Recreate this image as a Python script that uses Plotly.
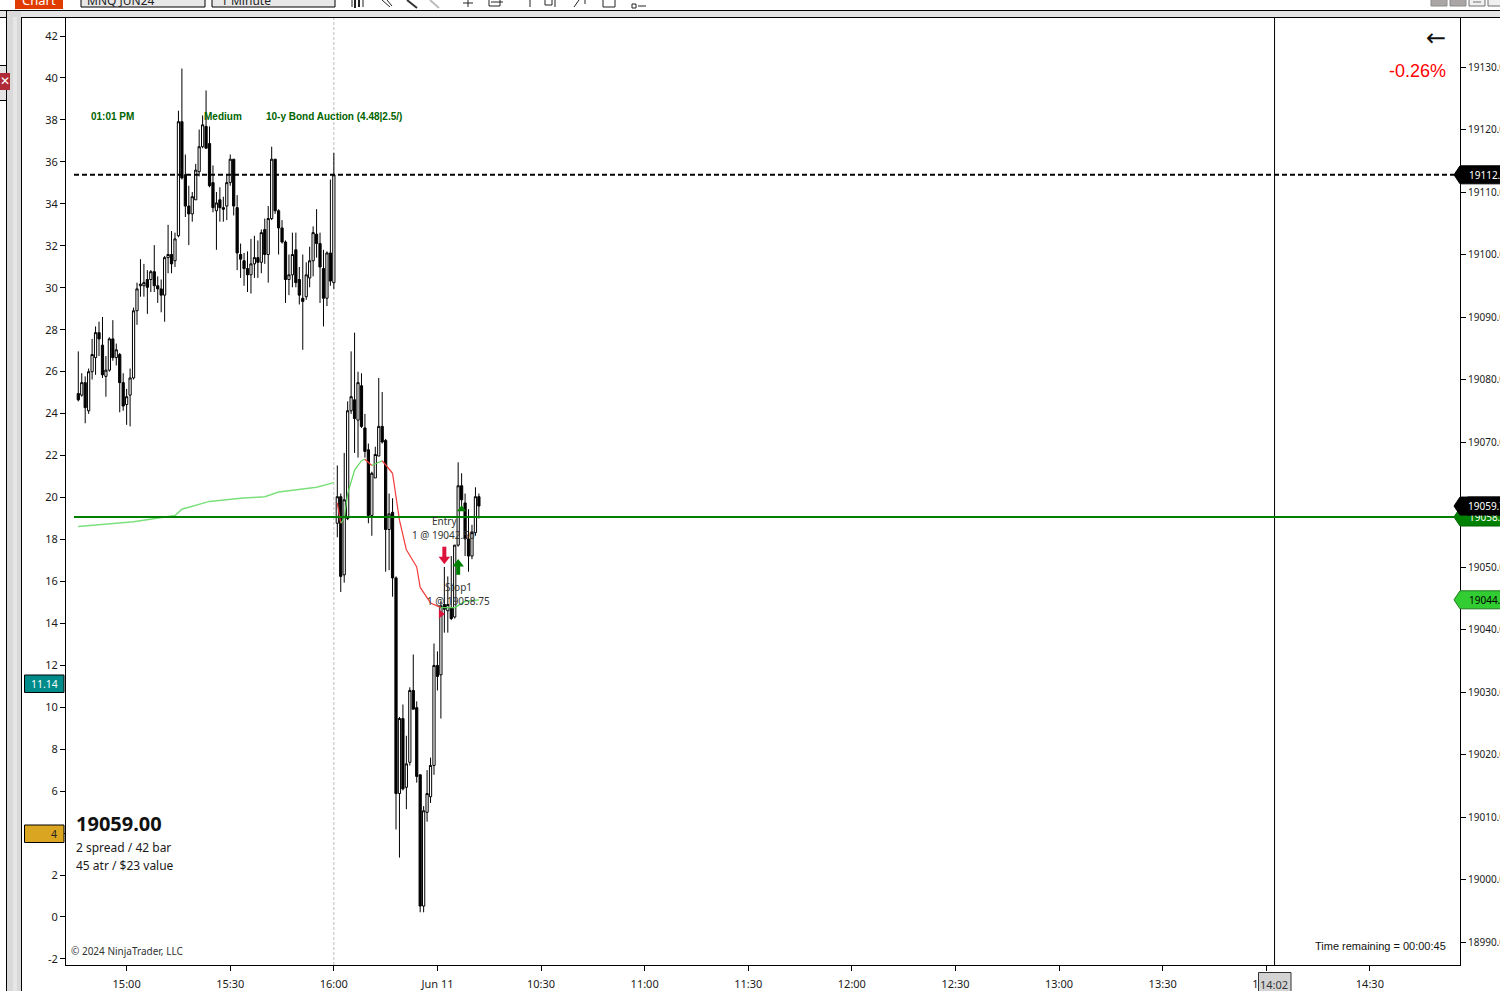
import plotly.graph_objects as go

# bars are numbered from 14:46, one per minute (session break after 16:00)
bar_idx = list(range(117))
opens = [19077.75, 19077.5, 19079.5, 19075, 19081.25, 19083.5, 19087.5, 19085.5, 19080.5, 19081.5,
         19086.5, 19083.5, 19084, 19079.5, 19076, 19077.5, 19080.25, 19091, 19095, 19095,
         19096, 19096, 19097.25, 19095, 19094.5, 19093.5, 19099.5, 19100, 19099, 19103,
         19121.25, 19112.75, 19107.75, 19106.5, 19108.75, 19113.25, 19117.25, 19120.5, 19117.75, 19111.5,
         19107, 19108.75, 19107.5, 19107.75, 19111.5, 19115.25, 19107.5, 19100, 19099, 19097.75,
         19096.75, 19098.5, 19099.5, 19098.75, 19104, 19100, 19105.75, 19115.25, 19107, 19104.25,
         19102, 19096, 19096.75, 19100.75, 19096, 19093, 19093.25, 19096.25, 19099, 19103.25,
         19101.75, 19097.75, 19093, 19100.25, 19095.5, 19057, 19061.25, 19048.75, 19057.75, 19075,
         19076.75, 19073.5, 19079, 19072.25, 19068.75, 19058.25, 19064.25, 19067.75, 19072.5, 19070.25,
         19056, 19058.75, 19048.25, 19013.75, 19025.75, 19014.75, 19018.75, 19030.25, 19027.5, 19016.75,
         18995.75, 19010.75, 19013.25, 19018.25, 19034.25, 19032.75, 19044, 19043, 19043.5, 19042,
         19053.5, 19063, 19060.25, 19054.5, 19051.75, 19055.5, 19061.25]
highs = [19084.5, 19081, 19080.5, 19081.75, 19086.5, 19088.5, 19089.25, 19090, 19083.75, 19086.75,
         19089.5, 19085.75, 19084.25, 19081, 19078.5, 19081.75, 19091.5, 19095.5, 19099.25, 19098.5,
         19097.5, 19097.5, 19101.5, 19096.5, 19096, 19099.75, 19104.75, 19103.75, 19103.5, 19123,
         19129.75, 19116, 19111, 19110, 19114.5, 19120, 19122.25, 19126.25, 19120.5, 19114.25,
         19110, 19110.75, 19109.25, 19112.75, 19116, 19115.25, 19109.5, 19101.75, 19100.25, 19100.5,
         19102.5, 19103, 19102.25, 19104, 19105.75, 19107.75, 19117.25, 19115.25, 19107.25, 19105.5,
         19102.25, 19100, 19103.5, 19103.5, 19098, 19100, 19098.75, 19101.25, 19104.5, 19107.25,
         19103.5, 19100.75, 19100.5, 19112, 19116.25, 19066.25, 19061.75, 19068.25, 19076.5, 19084.5,
         19087.5, 19081.25, 19081, 19074.5, 19069.75, 19065.25, 19069.25, 19080.25, 19078, 19070.5,
         19061.75, 19061, 19048.5, 19026, 19028, 19023, 19030.75, 19036, 19028.5, 19016.75,
         19011.75, 19017.5, 19019.5, 19037.75, 19036.5, 19044.5, 19050, 19048.5, 19051.75, 19053.5,
         19066.75, 19065, 19061.75, 19059.25, 19056.75, 19062.75, 19061.75]
lows = [19076.5, 19077.25, 19073, 19074.5, 19080, 19080.75, 19083.75, 19080.25, 19077.25, 19081.25,
        19083, 19082.25, 19074.75, 19075, 19072.75, 19072.5, 19080, 19088.75, 19093.25, 19093.25,
        19090.5, 19094, 19094, 19092.25, 19090.75, 19089.25, 19097, 19097, 19098, 19102.75,
        19112, 19106, 19101.5, 19105.25, 19108.75, 19112.5, 19117, 19117, 19110.75, 19106.75,
        19100.75, 19105.25, 19105.25, 19105.5, 19111, 19106.25, 19097.5, 19096.25, 19095, 19094,
        19093.75, 19096.25, 19096.25, 19097, 19098.5, 19095.5, 19105.5, 19106.5, 19100, 19101.75,
        19092.25, 19093.5, 19094.75, 19094.75, 19092, 19084.75, 19092.75, 19094.75, 19096.5, 19099.5,
        19092.25, 19088.5, 19091.75, 19095, 19094.5, 19054.75, 19046, 19047.5, 19057.5, 19074.5,
        19068.25, 19067.5, 19072.25, 19067.5, 19057, 19055, 19064.25, 19067.75, 19069.75, 19049.25,
        19049.5, 19045.25, 19008, 19003.5, 19014.25, 19011.25, 19018.25, 19027.25, 19015.5, 18994.75,
        18994.75, 19009.25, 19012.25, 19016.75, 19030.25, 19025.75, 19039.5, 19039.5, 19041.5, 19041.75,
        19053.25, 19059, 19051.75, 19049.25, 19051.25, 19055, 19057.75]
closes = [19076.75, 19079.5, 19075.5, 19081.25, 19084, 19087.5, 19086.5, 19080.75, 19081.5, 19086.5,
          19083.5, 19084.75, 19079.5, 19075.75, 19077.25, 19080.25, 19091, 19094.5, 19095.25, 19095.5,
          19094.75, 19097.25, 19095, 19094.5, 19093.5, 19099.5, 19100, 19098.5, 19102.5, 19121.25,
          19112.25, 19107.75, 19106.5, 19109.25, 19113.5, 19117.25, 19120.75, 19117, 19111, 19107.5,
          19108.25, 19107.5, 19107.25, 19111.5, 19115.25, 19107.75, 19100.25, 19099.25, 19097.75, 19096.75,
          19098.5, 19099.5, 19098.75, 19103.5, 19100, 19105.75, 19115.25, 19107, 19104.25, 19102,
          19096, 19096.75, 19100, 19095.5, 19093.5, 19092.5, 19096.75, 19099, 19103.5, 19101.75,
          19098, 19093, 19100.25, 19095.75, 19112.75, 19061.25, 19048.5, 19060.75, 19075, 19077.25,
          19073.75, 19079.5, 19072.5, 19068.5, 19058.25, 19065, 19068, 19072.5, 19070, 19056,
          19058.5, 19048.25, 19013.75, 19025.75, 19014.5, 19018.5, 19030.25, 19027.25, 19016.5, 18995.75,
          19011, 19013.75, 19018.25, 19034.25, 19032.5, 19043.75, 19043.25, 19044, 19041.75, 19053.5,
          19063, 19060.75, 19054.5, 19051.75, 19055.5, 19061.25, 19059.75]

# moving average, up to the session break
ma_before_idx = [0, 16, 28, 30, 38, 47, 54, 58, 69, 74]
ma_before = [19056.5, 19057.25, 19058.25, 19059.25, 19060.5, 19061, 19061.25, 19062, 19062.75, 19063.5]
# moving average after the break, colour of the piece that ends on each point
ma_after_idx = [75, 76, 77, 78, 80, 82, 83, 85, 88, 91, 93, 95, 98, 99, 102, 105, 109, 112, 116]
ma_after = [19060.25, 19057, 19057.75, 19061.75, 19065.5, 19067, 19067.25, 19066.25, 19067, 19065,
            19057.5, 19052.75, 19050, 19046.75, 19044.25, 19043.5, 19043.5, 19044.5, 19044.75]
ma_after_colors = ["r", "r", "g", "g", "g", "g", "g", "r", "g", "r",
                   "r", "r", "r", "r", "r", "r", "g", "g", "g"]

price_ticks = list(range(18990, 19131, 10))
left_ticks = list(range(-2, 43, 2))
time_tick_idx = [14, 44, 74, 104, 134, 164, 194, 224, 254, 284, 314, 344, 374]
time_labels = ["15:00", "15:30", "16:00", "Jun 11", "10:30", "11:00", "11:30", "12:00",
               "12:30", "13:00", "13:30", "14:00", "14:30"]

stop_level = 19112.75
entry_level = 19058
last_price = 19059.75
ma_last = 19044.75
cursor_idx = 346.4
break_idx = 74

W, H = 1500, 991
PLOT_L, PLOT_R, PLOT_T, PLOT_B = 66, 1460, 18, 965
PRICE_RANGE = [18986.32, 19137.84]
TEXT = "#1a1a1a"
SEGOE = "Noto Sans"


def fx(v):
    return v / W


def fy(v):
    return 1 - v / H


def price_y(p):
    return PLOT_T + (PRICE_RANGE[1] - p) / (PRICE_RANGE[1] - PRICE_RANGE[0]) * (PLOT_B - PLOT_T)


def rect(x0, y0, x1, y1, fill="rgba(0,0,0,0)", line="rgba(0,0,0,0)", lw=1, layer="above"):
    return dict(type="rect", xref="paper", yref="paper", x0=fx(x0), x1=fx(x1), y0=fy(y0), y1=fy(y1),
                fillcolor=fill, line=dict(color=line, width=lw), layer=layer)


def seg(x0, y0, x1, y1, color="#222222", lw=1):
    return dict(type="line", xref="paper", yref="paper", x0=fx(x0), x1=fx(x1), y0=fy(y0), y1=fy(y1),
                line=dict(color=color, width=lw), layer="above")


def label(x, y, text, size=11, color=TEXT, anchor="left", family=SEGOE):
    # annotations keep about 2px of padding round the text
    shift = {"left": -2, "right": 2, "center": 0}[anchor]
    return dict(xref="paper", yref="paper", x=fx(x + shift), y=fy(y), text=text, showarrow=False,
                xanchor=anchor, yanchor="middle", font=dict(size=size, color=color, family=family))


def price_flag(p, fill, edge, txt_color):
    y = price_y(p)
    path = "M %f %f L %f %f L %f %f L %f %f L %f %f L %f %f Z" % (
        fx(1454), fy(y), fx(1460), fy(y - 9), fx(1502), fy(y - 9),
        fx(1502), fy(y + 9), fx(1460), fy(y + 9), fx(1454), fy(y))
    shape = dict(type="path", xref="paper", yref="paper", path=path, fillcolor=fill,
                 line=dict(color=edge, width=1), layer="above")
    return shape, label(1469, y, "%.2f" % p, 10, txt_color)


fig = go.Figure()

fig.add_trace(go.Candlestick(
    x=bar_idx, open=opens, high=highs, low=lows, close=closes,
    increasing=dict(line=dict(color="black", width=1), fillcolor="white"),
    decreasing=dict(line=dict(color="black", width=1), fillcolor="black"),
    whiskerwidth=0, showlegend=False))

fig.add_trace(go.Scatter(x=ma_before_idx, y=ma_before, mode="lines",
                         line=dict(color="#7be07b", width=1.5), showlegend=False))
for i in range(1, len(ma_after)):
    fig.add_trace(go.Scatter(
        x=ma_after_idx[i - 1:i + 1], y=ma_after[i - 1:i + 1], mode="lines",
        line=dict(color="#f23a3a" if ma_after_colors[i] == "r" else "#5ad85a", width=1.2),
        showlegend=False))

# empty trace so the left indicator scale gets drawn
fig.add_trace(go.Scatter(x=[None], y=[None], yaxis="y2", showlegend=False))

# trade markers: bar, arrow tail, arrow head
arrow_bars = [106, 110]
arrow_tails = [19053.25, 19048.75]
arrow_heads = [19051.25, 19050.5]
arrow_symbols = ["triangle-down", "triangle-up"]
arrow_colors = ["#dc143c", "#008000"]
for b, tail, head, sym, col in zip(arrow_bars, arrow_tails, arrow_heads, arrow_symbols, arrow_colors):
    fig.add_trace(go.Scatter(x=[b, b], y=[tail, head], mode="lines", showlegend=False,
                             line=dict(color=col, width=4)))
    fig.add_trace(go.Scatter(x=[b], y=[head], mode="markers", showlegend=False,
                             marker=dict(symbol=sym, size=10, color=col)))
fig.add_trace(go.Scatter(x=[111], y=[19059.25], mode="markers", showlegend=False,
                         marker=dict(symbol="triangle-up", size=8, color="#008000")))
fig.add_trace(go.Scatter(x=[105], y=[19042.5], mode="markers", showlegend=False,
                         marker=dict(symbol="triangle-right", size=8, color="#dc143c")))

shapes = [
    # session break, cursor and levels
    dict(type="line", xref="x", yref="paper", x0=break_idx, x1=break_idx, y0=fy(PLOT_B), y1=fy(PLOT_T),
         line=dict(color="#bdbdbd", width=1, dash="3px,2px"), layer="below"),
    dict(type="line", xref="x", yref="paper", x0=cursor_idx, x1=cursor_idx, y0=fy(PLOT_B), y1=fy(PLOT_T),
         line=dict(color="black", width=1), layer="above"),
    dict(type="line", xref="paper", yref="y", x0=fx(74), x1=fx(1454), y0=stop_level, y1=stop_level,
         line=dict(color="black", width=2, dash="5px,3px"), layer="above"),
    dict(type="line", xref="paper", yref="y", x0=fx(74), x1=fx(1454), y0=entry_level, y1=entry_level,
         line=dict(color="#008000", width=2), layer="above"),
    # window frame
    rect(0, 11, W, 17, fill="#e4e4e4"),
    seg(0, 10.5, W, 10.5, "black"),
    seg(21, 17.5, W, 17.5, "black"),
    rect(7, 11, 21, H, fill="#d9d9d9"),
    rect(13, 17, 17, H, fill="#e6e6e6"),
    seg(6.5, 11, 6.5, H, "black"),
    seg(21.5, 17, 21.5, H, "black"),
    seg(0, 17.5, 6.5, 17.5, "black"),
    seg(0, 65.5, 6.5, 65.5, "black"),
    seg(0, 100.5, 6.5, 100.5, "black"),
    rect(0, 66, 6, 100, fill="#e4e4e4"),
    rect(-2, 73, 10, 90, fill="#b02a37"),
    # toolbar
    rect(15, 0, 63, 9, fill="#e03c00"),
    rect(81, -2, 205, 7, fill="#e8e8e8", line="black"),
    rect(212, -2, 335, 7, fill="#e8e8e8", line="black"),
    rect(1431, -1, 1447, 6, fill="#aaa6a6", line="#8a8a8a"),
    rect(1450, -1, 1466, 6, fill="#aaa6a6", line="#8a8a8a"),
    rect(1469, -1, 1485, 6, fill="#f0f0f0", line="#707070"),
    rect(1488, -1, 1502, 6, fill="#f0f0f0", line="#707070"),
    seg(1473, 2, 1481, 2, "#707070"),
    # toolbar icons
    seg(352, 0, 352, 7), seg(355, 0, 355, 8, lw=2), seg(359, 0, 359, 7, lw=2), seg(363, 0, 363, 7),
    seg(382, 0, 390, 7), seg(387, 0, 392, 6), seg(407, 0, 417, 8, "#333333", 2),
    seg(430, 0, 439, 8, "#bbbbbb", 2), seg(468, 0, 468, 7), seg(463, 3, 473, 3),
    rect(489, -1, 500, 6, line="#222222"), seg(491, 2, 503, 2), seg(530, 0, 530, 7),
    rect(545, -1, 552, 5, line="#222222"), seg(555, 0, 555, 7), seg(574, 7, 579, 0), seg(585, 0, 585, 4),
    rect(603, -1, 615, 7, line="#222222"), rect(632, 4, 636, 8, line="#222222"), seg(638, 6, 646, 6),
    # left indicator flags
    rect(24.5, 675, 64, 692.5, fill="#008b8b", line="black"),
    rect(24.5, 825, 64, 842.5, fill="#daa520", line="black"),
    # hidden time cursor box
    rect(1258.5, 972.5, 1291, 993, fill="#d3d3d3", line="#333333"),
]

annotations = [
    label(91, 117, "<b>01:01 PM</b>", 10, "#006400", family="Liberation Sans"),
    label(204, 117, "<b>Medium</b>", 10, "#006400", family="Liberation Sans"),
    label(266, 117, "<b>10-y Bond Auction (4.48|2.5/)</b>", 10, "#006400", family="Liberation Sans"),
    label(432, 521, "Entry", 10, "#333333"),
    label(412, 535, "1 @ 19042.50", 10, "#333333"),
    label(445, 587, "Stop1", 10, "#333333"),
    label(427, 601, "1 @ 19058.75", 10, "#333333"),
    label(76, 823, "<b>19059.00</b>", 20, "#111111"),
    label(76, 847, "2 spread / 42 bar", 12),
    label(76, 865, "45 atr / $23 value", 12),
    label(71, 951, "© 2024 NinjaTrader, LLC", 10, "#333333"),
    label(1446, 946, "Time remaining = 00:00:45", 11, "#111111", "right", "Liberation Sans"),
    label(1446, 71, "-0.26%", 18, "#ff0000", "right", "Liberation Sans"),
    label(1446, 38, "←", 24, "#111111", "right", "DejaVu Sans"),
    label(58, 684, "11.14", 10.5, "white", "right"),
    label(57, 834, "4", 10.5, "#222222", "right"),
    label(1274, 984, "14:02", 11, "#333333", "center"),
    label(39, 0, "Chart", 13, "white", "center"),
    label(87, 0, "MNQ JUN24", 12, "#222222"),
    label(221, 0, "1 Minute", 12, "#222222"),
    label(0, 81, "<b>✕</b>", 12, "white", "left", "DejaVu Sans"),
]

# the last price flag sits on top of the entry flag, so it is drawn last with a filled label
for p, fill, edge, col in [(stop_level, "black", "black", "white"),
                           (entry_level, "#008000", "#006400", "white"),
                           (ma_last, "#32cd32", "#1f7a1f", "black"),
                           (last_price, "black", "black", "white")]:
    s, a = price_flag(p, fill, edge, col)
    if p == last_price:
        a.update(bgcolor="black", width=34, height=18, align="left", borderpad=0)
    shapes.append(s)
    annotations.append(a)

fig.update_layout(
    width=W, height=H, autosize=False, margin=dict(l=0, r=0, t=0, b=0, pad=0, autoexpand=False),
    paper_bgcolor="white", plot_bgcolor="white", showlegend=False, boxgap=0.08,
    shapes=shapes, annotations=annotations,
    font=dict(family=SEGOE, size=11, color=TEXT),
    xaxis=dict(domain=[fx(PLOT_L), fx(PLOT_R)], range=[-3.56, 400.1], rangeslider=dict(visible=False),
               tickmode="array", tickvals=time_tick_idx, ticktext=time_labels, ticks="outside", ticklen=5,
               tickcolor="black", showgrid=False, zeroline=False, showline=True, linecolor="black",
               linewidth=1, mirror=True, ticklabelstandoff=4, tickfont=dict(size=11, color=TEXT, family=SEGOE)),
    yaxis=dict(domain=[fy(PLOT_B), fy(PLOT_T)], range=PRICE_RANGE, side="right", tickmode="array",
               tickvals=price_ticks, ticktext=["%d.00" % v for v in price_ticks], ticks="outside", ticklen=5,
               tickcolor="black", showgrid=False, zeroline=False, showline=True, linecolor="black",
               linewidth=1, tickfont=dict(size=10, color=TEXT, family=SEGOE)),
    yaxis2=dict(overlaying="y", side="left", anchor="x", range=[-2.29, 42.86], tickmode="array",
                tickvals=left_ticks, ticktext=[str(v) for v in left_ticks], ticks="outside", ticklen=5,
                tickcolor="black", showgrid=False, zeroline=False, showline=True, linecolor="black",
                linewidth=1, tickfont=dict(size=11, color=TEXT, family=SEGOE)),
)

fig.write_html("out.html", config={"displayModeBar": False},
               post_script="document.body.style.margin='0';document.body.style.overflow='hidden';")
